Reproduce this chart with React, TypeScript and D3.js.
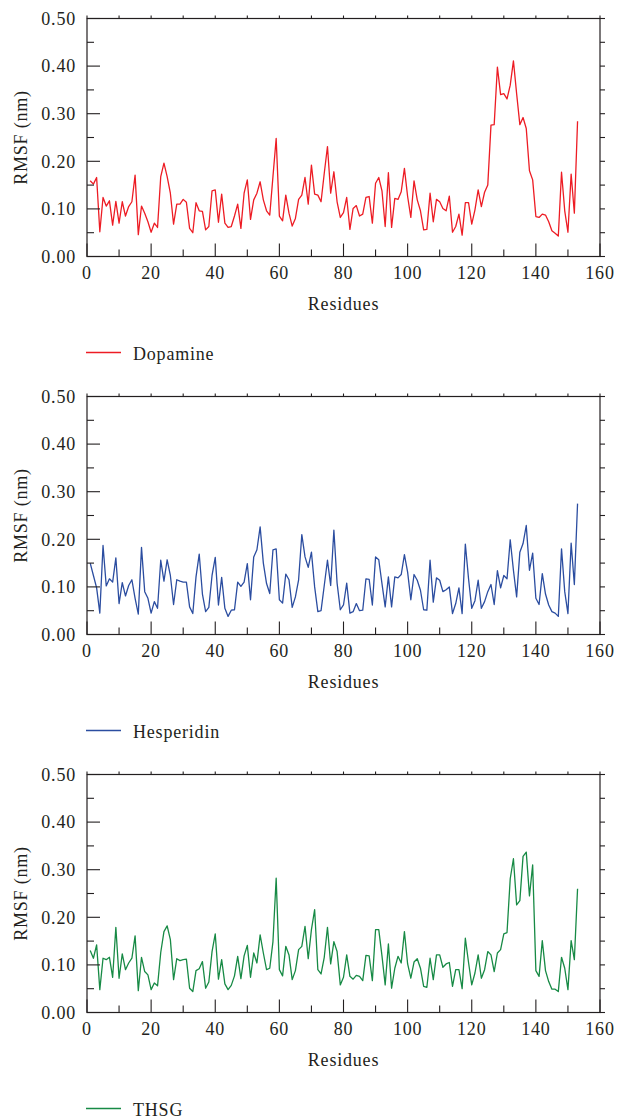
import React from "react";
import * as d3 from "d3";

const seriesNames = ["Dopamine", "Hesperidin", "THSG"];
const seriesColors = ["#ed1c24", "#2b4da0", "#178a45"];

const dopamine = [
  0.159, 0.152, 0.166, 0.052, 0.124, 0.106, 0.117, 0.066, 0.116, 0.070,
  0.115, 0.085, 0.105, 0.115, 0.171, 0.046, 0.106, 0.091, 0.073, 0.051,
  0.070, 0.061, 0.168, 0.196, 0.168, 0.133, 0.068, 0.110, 0.110, 0.120,
  0.114, 0.059, 0.050, 0.113, 0.096, 0.095, 0.056, 0.063, 0.138, 0.140,
  0.072, 0.131, 0.070, 0.061, 0.063, 0.085, 0.110, 0.059, 0.133, 0.161,
  0.078, 0.119, 0.133, 0.157, 0.119, 0.096, 0.087, 0.168, 0.248, 0.085,
  0.075, 0.129, 0.091, 0.064, 0.080, 0.120, 0.129, 0.166, 0.110, 0.192,
  0.131, 0.129, 0.115, 0.175, 0.231, 0.133, 0.178, 0.115, 0.082, 0.092,
  0.124, 0.057, 0.101, 0.107, 0.085, 0.089, 0.124, 0.126, 0.070, 0.154,
  0.166, 0.138, 0.063, 0.176, 0.061, 0.122, 0.120, 0.136, 0.185, 0.126,
  0.082, 0.159, 0.119, 0.096, 0.056, 0.057, 0.133, 0.073, 0.120, 0.115,
  0.101, 0.096, 0.127, 0.051, 0.063, 0.089, 0.045, 0.113, 0.113, 0.068,
  0.098, 0.140, 0.105, 0.135, 0.150, 0.276, 0.277, 0.398, 0.340, 0.342,
  0.331, 0.360, 0.411, 0.342, 0.277, 0.292, 0.269, 0.180, 0.161, 0.084,
  0.082, 0.089, 0.087, 0.073, 0.054, 0.049, 0.043, 0.177, 0.096, 0.051,
  0.173, 0.091, 0.284,
];

const hesperidin = [
  0.150, 0.124, 0.098, 0.045, 0.187, 0.102, 0.117, 0.110, 0.161, 0.065,
  0.109, 0.081, 0.103, 0.115, 0.076, 0.043, 0.183, 0.090, 0.076, 0.045,
  0.069, 0.055, 0.156, 0.112, 0.157, 0.124, 0.063, 0.115, 0.112, 0.110,
  0.110, 0.058, 0.044, 0.121, 0.169, 0.085, 0.048, 0.057, 0.124, 0.162,
  0.062, 0.120, 0.055, 0.038, 0.051, 0.052, 0.110, 0.101, 0.110, 0.149,
  0.073, 0.163, 0.178, 0.226, 0.150, 0.107, 0.086, 0.178, 0.180, 0.073,
  0.066, 0.127, 0.115, 0.057, 0.079, 0.115, 0.210, 0.163, 0.141, 0.173,
  0.100, 0.048, 0.050, 0.103, 0.156, 0.103, 0.219, 0.108, 0.052, 0.062,
  0.108, 0.045, 0.048, 0.065, 0.050, 0.051, 0.117, 0.116, 0.062, 0.163,
  0.157, 0.107, 0.058, 0.121, 0.058, 0.121, 0.119, 0.126, 0.168, 0.131,
  0.073, 0.126, 0.114, 0.093, 0.052, 0.051, 0.156, 0.068, 0.119, 0.114,
  0.090, 0.094, 0.100, 0.044, 0.065, 0.098, 0.044, 0.190, 0.117, 0.055,
  0.071, 0.114, 0.055, 0.069, 0.090, 0.105, 0.063, 0.134, 0.098, 0.124,
  0.117, 0.199, 0.135, 0.079, 0.173, 0.191, 0.229, 0.135, 0.171, 0.076,
  0.063, 0.128, 0.085, 0.062, 0.048, 0.045, 0.038, 0.180, 0.090, 0.044,
  0.192, 0.105, 0.275,
];

const thsg = [
  0.130, 0.114, 0.142, 0.048, 0.114, 0.111, 0.116, 0.074, 0.179, 0.072,
  0.123, 0.090, 0.104, 0.114, 0.161, 0.046, 0.116, 0.086, 0.079, 0.048,
  0.062, 0.056, 0.126, 0.170, 0.182, 0.153, 0.069, 0.113, 0.109, 0.111,
  0.112, 0.051, 0.044, 0.088, 0.092, 0.107, 0.051, 0.064, 0.128, 0.165,
  0.070, 0.111, 0.060, 0.048, 0.057, 0.077, 0.118, 0.071, 0.119, 0.141,
  0.074, 0.125, 0.104, 0.163, 0.125, 0.090, 0.093, 0.149, 0.282, 0.090,
  0.077, 0.139, 0.121, 0.069, 0.088, 0.132, 0.139, 0.181, 0.113, 0.174,
  0.216, 0.090, 0.081, 0.116, 0.179, 0.102, 0.149, 0.128, 0.058, 0.074,
  0.121, 0.076, 0.070, 0.078, 0.076, 0.067, 0.120, 0.119, 0.067, 0.174,
  0.174, 0.119, 0.058, 0.144, 0.051, 0.093, 0.118, 0.104, 0.170, 0.102,
  0.072, 0.106, 0.113, 0.093, 0.055, 0.053, 0.114, 0.069, 0.121, 0.121,
  0.095, 0.102, 0.105, 0.055, 0.090, 0.090, 0.050, 0.156, 0.105, 0.058,
  0.083, 0.121, 0.072, 0.090, 0.128, 0.121, 0.086, 0.125, 0.132, 0.165,
  0.168, 0.281, 0.323, 0.226, 0.235, 0.328, 0.337, 0.245, 0.310, 0.088,
  0.076, 0.151, 0.088, 0.065, 0.049, 0.049, 0.044, 0.116, 0.093, 0.048,
  0.151, 0.111, 0.260,
];

const seriesValues = [dopamine, hesperidin, thsg];

const xTickLabels = [0, 20, 40, 60, 80, 100, 120, 140, 160];
const xMinorTicks = [10, 30, 50, 70, 90, 110, 130, 150];
const yTickLabels = [0, 0.1, 0.2, 0.3, 0.4, 0.5];
const yMinorTicks = [0.05, 0.15, 0.25, 0.35, 0.45];

const W = 617;
const H = 1120;
const LEFT = 87;
const RIGHT = 600;
const PANEL_TOP = 18.5;
const PANEL_H = 238;
const PANEL_STEP = 378;
const INK = "#231f20";
const FONT = "'Liberation Serif', 'Times New Roman', serif";

function Panel({ idx }: { idx: number }) {
  const top = PANEL_TOP + idx * PANEL_STEP;
  const bottom = top + PANEL_H;
  const values = seriesValues[idx];
  const x = d3.scaleLinear().domain([0, 160]).range([LEFT, RIGHT]);
  const y = d3.scaleLinear().domain([0, 0.5]).range([bottom, top]);
  const line = d3
    .line<number>()
    .x((_, i) => x(i + 1))
    .y((d) => y(d));
  const fmt = d3.format(".2f");
  const legendY = bottom + 96;
  return (
    <g>
      {/* data */}
      <path d={line(values) || ""} fill="none" stroke={seriesColors[idx]} strokeWidth={1.3} strokeLinejoin="round" />
      {/* frame */}
      <rect x={LEFT} y={top} width={RIGHT - LEFT} height={bottom - top} fill="none" stroke={INK} strokeWidth={1.2} />
      {/* y ticks left & right */}
      {yTickLabels.map((t) => (
        <g key={"yt" + t}>
          <line x1={LEFT} x2={LEFT + 13} y1={y(t)} y2={y(t)} stroke={INK} strokeWidth={1.1} />
          <line x1={RIGHT} x2={RIGHT + 5} y1={y(t)} y2={y(t)} stroke={INK} strokeWidth={1.1} />
          <text x={LEFT - 11} y={y(t)} dy="0.35em" textAnchor="end" fontSize={18} letterSpacing={0.8} fill={INK} fontFamily={FONT}>
            {fmt(t)}
          </text>
        </g>
      ))}
      {yMinorTicks.map((t) => (
        <g key={"ym" + t}>
          <line x1={LEFT} x2={LEFT + 7} y1={y(t)} y2={y(t)} stroke={INK} strokeWidth={1.1} />
          <line x1={RIGHT} x2={RIGHT + 5} y1={y(t)} y2={y(t)} stroke={INK} strokeWidth={1.1} />
        </g>
      ))}
      {/* x ticks bottom & top */}
      {xTickLabels.map((t) => (
        <g key={"xt" + t}>
          <line x1={x(t)} x2={x(t)} y1={bottom} y2={bottom - 13} stroke={INK} strokeWidth={1.1} />
          <line x1={x(t)} x2={x(t)} y1={top} y2={top - 3} stroke={INK} strokeWidth={1.1} />
          <text x={x(t)} y={bottom + 22.5} textAnchor="middle" fontSize={18} letterSpacing={0.8} fill={INK} fontFamily={FONT}>
            {t}
          </text>
        </g>
      ))}
      {xMinorTicks.map((t) => (
        <g key={"xm" + t}>
          <line x1={x(t)} x2={x(t)} y1={bottom} y2={bottom - 7} stroke={INK} strokeWidth={1.1} />
          <line x1={x(t)} x2={x(t)} y1={top} y2={top - 3} stroke={INK} strokeWidth={1.1} />
        </g>
      ))}
      {/* axis labels */}
      <text x={(LEFT + RIGHT) / 2} y={bottom + 53.5} textAnchor="middle" fontSize={18} letterSpacing={0.8} fill={INK} fontFamily={FONT}>
        Residues
      </text>
      <text
        transform={`translate(${27},${(top + bottom) / 2}) rotate(-90)`}
        textAnchor="middle"
        fontSize={18}
        letterSpacing={0.8}
        fill={INK}
        fontFamily={FONT}
      >
        RMSF (nm)
      </text>
      {/* legend */}
      <line x1={86} x2={121} y1={legendY} y2={legendY} stroke={seriesColors[idx]} strokeWidth={1.3} />
      <text x={133} y={legendY + 7.5} fontSize={18} letterSpacing={0.8} fill={INK} fontFamily={FONT}>
        {seriesNames[idx]}
      </text>
    </g>
  );
}

export default function App() {
  return (
    <svg
      width={W}
      height={H}
      viewBox={`0 0 ${W} ${H}`}
      style={{ position: "absolute", left: 0, top: 0, background: "#fff" }}
    >
      <rect width={W} height={H} fill="#fff" />
      {seriesNames.map((_, i) => (
        <Panel key={i} idx={i} />
      ))}
    </svg>
  );
}
